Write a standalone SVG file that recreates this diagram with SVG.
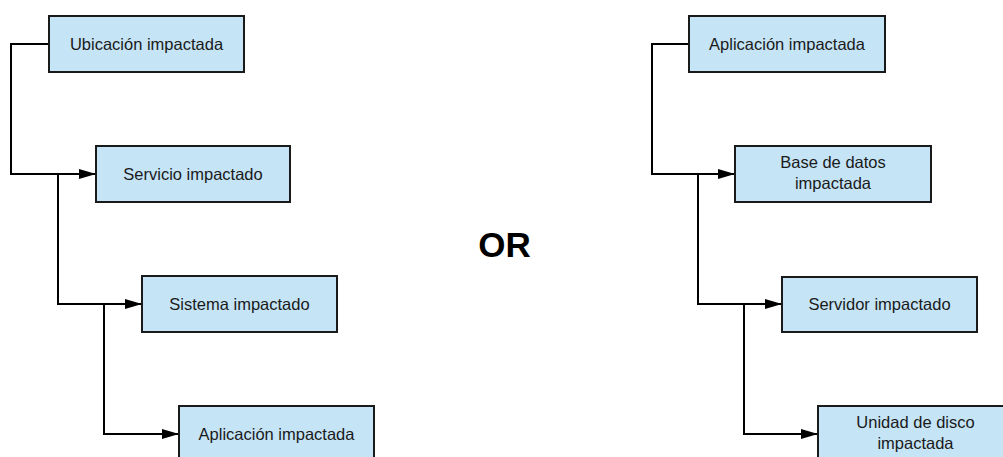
<svg xmlns="http://www.w3.org/2000/svg" width="1003" height="457" viewBox="0 0 1003 457">
<style>
.box{fill:#c5e4f6;stroke:#1a1a1a;stroke-width:2}
.lbl{font-family:"Liberation Sans",Arial,sans-serif;font-size:16.5px;fill:#1a1a1a;text-anchor:middle}
.con{fill:none;stroke:#000;stroke-width:2}
.or{font-family:"Liberation Sans",Arial,sans-serif;font-size:35px;font-weight:bold;fill:#000;text-anchor:middle}
</style>
<defs>
<marker id="arr" markerWidth="17" markerHeight="10" refX="16" refY="5" orient="auto" markerUnits="userSpaceOnUse">
<path d="M0,0 L17,5 L0,10 Z" fill="#000"/>
</marker>
</defs>
<rect width="1003" height="457" fill="#fff"/>
<g id="connectors">
<path class="con" d="M49,44 H11 V174 H95" marker-end="url(#arr)"/>
<path class="con" d="M58,174 V304 H141" marker-end="url(#arr)"/>
<path class="con" d="M104,304 V434 H178" marker-end="url(#arr)"/>
<path class="con" d="M689,44 H652 V174 H734" marker-end="url(#arr)"/>
<path class="con" d="M698,174 V304 H781" marker-end="url(#arr)"/>
<path class="con" d="M744,304 V434 H817" marker-end="url(#arr)"/>
</g>
<g id="n1"><rect class="box" x="49" y="16" width="195" height="56"/><text class="lbl" x="146.5" y="49.5">Ubicación impactada</text></g>
<g id="n2"><rect class="box" x="96" y="146" width="194" height="56"/><text class="lbl" x="193" y="179.5">Servicio impactado</text></g>
<g id="n3"><rect class="box" x="142" y="276" width="195" height="56"/><text class="lbl" x="239.5" y="309.5">Sistema impactado</text></g>
<g id="n4"><rect class="box" x="179" y="406" width="195" height="56"/><text class="lbl" x="276.5" y="439.5">Aplicación impactada</text></g>
<g id="n5"><rect class="box" x="689" y="16" width="196" height="56"/><text class="lbl" x="787" y="49.5">Aplicación impactada</text></g>
<g id="n6"><rect class="box" x="735" y="146" width="196" height="56"/><text class="lbl" x="833" y="167.5">Base de datos</text><text class="lbl" x="833" y="188.5">impactada</text></g>
<g id="n7"><rect class="box" x="782" y="277" width="195" height="55"/><text class="lbl" x="879.5" y="309.5">Servidor impactado</text></g>
<g id="n8"><rect class="box" x="818" y="406" width="195" height="56"/><text class="lbl" x="915.5" y="427.5">Unidad de disco</text><text class="lbl" x="915.5" y="448.5">impactada</text></g>
<text class="or" x="504.5" y="256.5">OR</text>
</svg>
